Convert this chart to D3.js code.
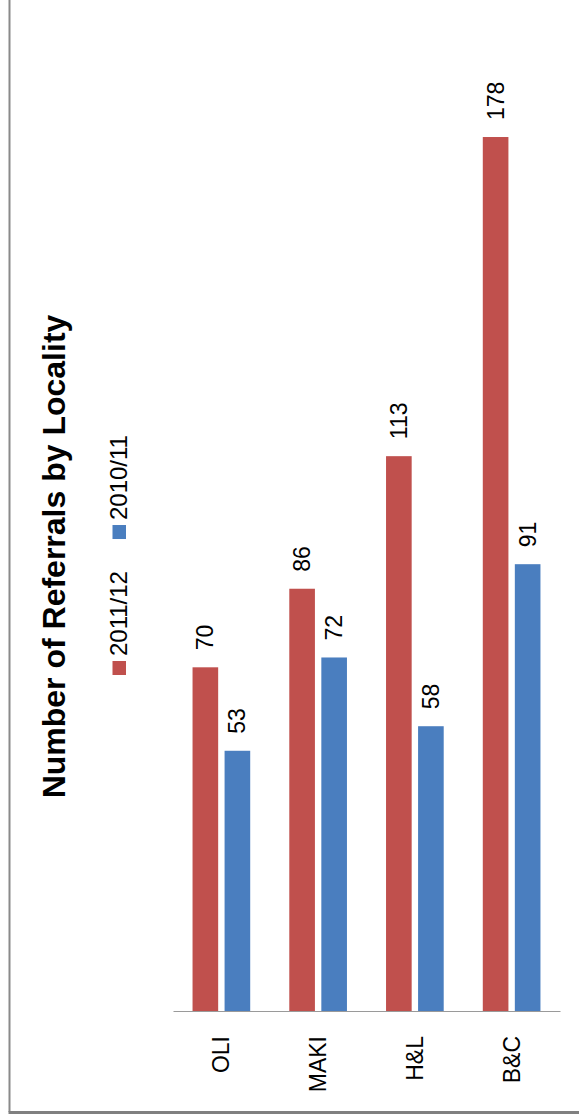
<!DOCTYPE html>
<html>
<head>
<meta charset="utf-8">
<script src="https://cdn.jsdelivr.net/npm/d3@7"></script>
<style>
  html, body { margin: 0; padding: 0; background: #ffffff; }
  svg { display: block; }
  text { font-family: "Liberation Sans", Arial, sans-serif; fill: #000; }
</style>
</head>
<body>
<svg id="chart" width="579" height="1117"></svg>
<script>
// Referrals per locality, two financial years
const categories = ["OLI", "MAKI", "H&L", "B&C"];
const seriesNames = ["2011/12", "2010/11"];
const values2011 = [70, 86, 113, 178];
const values2010 = [53, 72, 58, 91];
const valueDomain = [0, 200];
const chartTitle = "Number of Referrals by Locality";

const seriesValues = [values2011, values2010];
const colors = ["#C0504D", "#4A7EBF"];

const svg = d3.select("#chart");
const W = 579, H = 1117;

// Frame (left and bottom edges)
svg.append("line")
  .attr("x1", 9.5).attr("x2", 9.5).attr("y1", 0).attr("y2", 1112)
  .attr("stroke", "#8a8a8a").attr("stroke-width", 2);
svg.append("line")
  .attr("x1", 8.5).attr("x2", W).attr("y1", 1112.5).attr("y2", 1112.5)
  .attr("stroke", "#808080").attr("stroke-width", 3);

// Plot is drawn sideways: categories run left to right, values grow upward
const baseY = 1011;
const x0 = d3.scaleBand().domain(categories).range([173, 560]).padding(0);
const x1 = d3.scaleBand().domain(seriesNames).range([0, x0.bandwidth()])
  .paddingInner(0.2).paddingOuter(0.61);
const y = d3.scaleLinear().domain(valueDomain).range([baseY, 29]);

const rows = categories.map((c, i) => ({
  cat: c,
  vals: seriesNames.map((s, j) => ({ series: s, idx: j, value: seriesValues[j][i] }))
}));

const groups = svg.append("g").selectAll("g")
  .data(rows).join("g")
  .attr("transform", d => `translate(${x0(d.cat)},0)`);

groups.selectAll("rect")
  .data(d => d.vals).join("rect")
  .attr("x", d => x1(d.series))
  .attr("width", x1.bandwidth())
  .attr("y", d => y(d.value))
  .attr("height", d => y(0) - y(d.value))
  .attr("fill", d => colors[d.idx]);

// Value labels above each bar, rotated
groups.selectAll("text.val")
  .data(d => d.vals).join("text")
  .attr("class", "val")
  .attr("transform", d => `translate(${x1(d.series) + x1.bandwidth() / 2},${y(d.value) - 17}) rotate(-90)`)
  .attr("dy", "0.35em")
  .attr("text-anchor", "start")
  .style("font-size", "23px")
  .text(d => d.value);

// Category axis
const axis = svg.append("g")
  .attr("transform", `translate(0,${baseY})`)
  .call(d3.axisBottom(x0).tickSize(0).tickPadding(0));
axis.select(".domain").attr("stroke", "#9a9a9a").attr("stroke-width", 1.2);
axis.selectAll(".tick text")
  .attr("transform", "rotate(-90)")
  .attr("x", -25)
  .attr("y", 0)
  .attr("dy", "0.35em")
  .attr("text-anchor", "end")
  .style("font-family", "'Liberation Sans', Arial, sans-serif")
  .style("font-size", "23px")
  .attr("fill", "#000");

// Title
svg.append("text")
  .attr("transform", "translate(65,556.5) rotate(-90)")
  .attr("text-anchor", "middle")
  .style("font-size", "32px")
  .style("font-weight", "bold")
  .text(chartTitle);

// Legend, stacked upward from the red swatch
const legend = svg.append("g");
let cursor = 675;
seriesNames.forEach((name, i) => {
  const sq = 14;
  legend.append("rect")
    .attr("x", 112.5).attr("y", cursor - sq)
    .attr("width", 13.5).attr("height", sq)
    .attr("fill", colors[i]);
  cursor -= sq + 5;
  const t = legend.append("text")
    .attr("transform", `translate(127,${cursor}) rotate(-90)`)
    .attr("text-anchor", "start")
    .style("font-size", "24px")
    .text(name);
  cursor -= t.node().getComputedTextLength() + 32;
});
</script>
</body>
</html>
